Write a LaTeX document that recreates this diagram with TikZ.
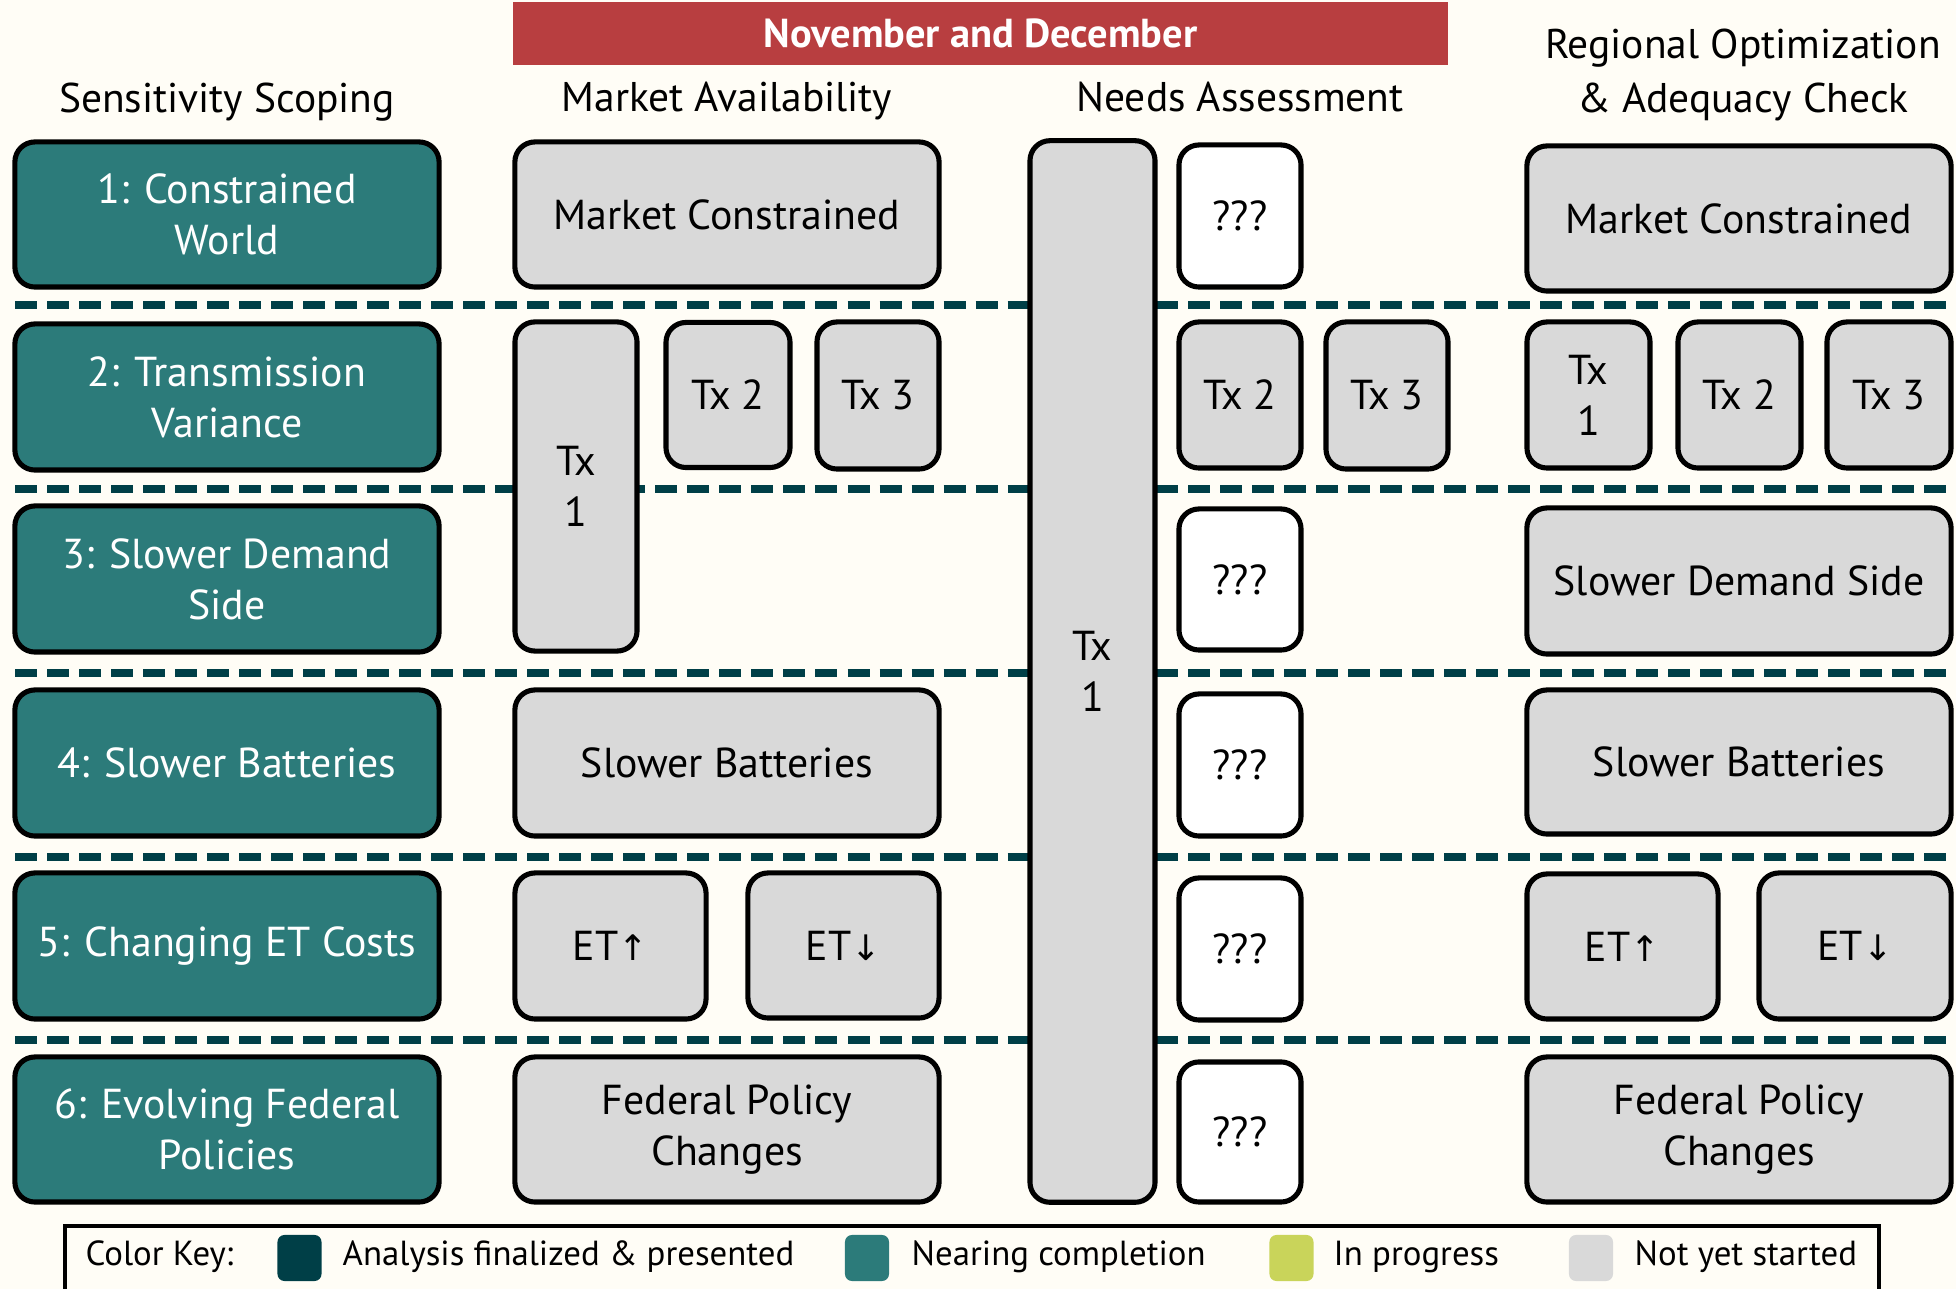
\documentclass[tikz,border=0pt]{standalone}
\usepackage{fontspec}
\setmainfont{PT Sans}
\newfontfamily\arrowfont{DejaVu Sans}
\definecolor{bgc}{HTML}{FFFDF6}
\definecolor{tealc}{HTML}{2C7B7A}
\definecolor{darkc}{HTML}{003F47}
\definecolor{limec}{HTML}{C9D45A}
\definecolor{greyc}{HTML}{D9D9D9}
\definecolor{redc}{HTML}{B83E40}
\newcommand\B[7]{\node[#2, minimum width=#5cm, minimum height=#6cm] (#1) at (#3,#4) {#7};}
\newcommand\up{{\arrowfont\fontsize{10}{12}\selectfont↑}}
\newcommand\dn{{\arrowfont\fontsize{10}{12}\selectfont↓}}
\tikzset{
  basebox/.style={draw=black, line width=1.45pt, rounded corners=0.2cm, align=center, inner sep=0pt,
    font=\fontsize{11.9}{14.5}\selectfont},
  tealbox/.style={basebox, fill=tealc, text=white},
  greybox/.style={basebox, fill=greyc, text=black},
  whitebox/.style={basebox, fill=white, text=black},
  sep/.style={draw=darkc, line width=2pt, dash pattern=on 0.22cm off 0.1cm},
  colheadml/.style={font=\fontsize{11.8}{14.5}\selectfont, align=center},
  colhead/.style={colheadml, text height=0.75em, text depth=0.2em},
  swatch/.style={rounded corners=0.07cm, minimum width=0.44cm, minimum height=0.46cm, inner sep=0pt},
  keytext/.style={font=\fontsize{9.9}{12}\selectfont, anchor=west, inner sep=0pt},
}
\begin{document}
\begin{tikzpicture}[x=0.01cm,y=-0.01cm]
\useasboundingbox (0,0) rectangle (1956,1289);
\clip (0,0) rectangle (1956,1289);
\fill[bgc] (0,0) rectangle (1956,1289);
% header
\node[fill=redc, minimum width=9.35cm, minimum height=0.63cm, inner sep=0pt, text=white,
  font=\fontsize{11.5}{14}\selectfont\bfseries] (hdr) at (980.5,33.5) {November and December};
\node[colhead] (h1) at (227,103) {Sensitivity Scoping};
\node[colhead] (h2) at (727,102) {Market Availability};
\node[colhead] (h3) at (1240,102) {Needs Assessment};
\node[colheadml, font=\fontsize{11.8}{15.5}\selectfont] (h4) at (1743,75) {Regional Optimization\\\& Adequacy Check};
% separators (left part runs under the tall Tx 1 box, right part starts at its edge)
\foreach \s/\yy in {s1/305,s2/489,s3/673,s4/857,s5/1040}{
  \coordinate (\s l) at (15,\yy); \coordinate (\s k) at (1092,\yy);
  \coordinate (\s m) at (1156,\yy); \coordinate (\s r) at (1960,\yy);
  \draw[sep] (\s l) -- (\s k);
  \draw[sep] (\s m) -- (\s r);
}
% left column
\B{l1}{tealbox}{227}{214.5}{4.24}{1.45}{1: Constrained\\World}
\B{l2}{tealbox}{227}{397}{4.24}{1.46}{2: Transmission\\Variance}
\B{l3}{tealbox}{227}{579}{4.24}{1.46}{3: Slower Demand\\Side}
\B{l4}{tealbox}{227}{763}{4.24}{1.46}{4: Slower Batteries}
\B{l5}{tealbox}{227}{946}{4.24}{1.46}{5: Changing ET Costs}
\B{l6}{tealbox}{227}{1129.5}{4.24}{1.45}{6: Evolving Federal\\Policies}
% market availability
\B{m1}{greybox}{727}{214.5}{4.24}{1.45}{Market Constrained}
\B{mt1}{greybox}{576}{486.5}{1.22}{3.29}{Tx\\1}
\B{mt2}{greybox}{728}{395}{1.24}{1.45}{Tx 2}
\B{mt3}{greybox}{878}{395.5}{1.22}{1.47}{Tx 3}
\B{m4}{greybox}{727}{763}{4.24}{1.46}{Slower Batteries}
\B{m5a}{greybox}{610.5}{946}{1.91}{1.46}{ET\up}
\B{m5b}{greybox}{843.5}{945.5}{1.91}{1.45}{ET\dn}
\B{m6}{greybox}{727}{1129.5}{4.24}{1.45}{Federal Policy\\Changes}
% needs assessment
\B{nt1}{greybox}{1092.5}{671.5}{1.25}{10.61}{Tx\\1}
\B{n1}{whitebox}{1240}{216}{1.22}{1.42}{???}
\B{nt2}{greybox}{1240}{395}{1.22}{1.46}{Tx 2}
\B{nt3}{greybox}{1387}{395.5}{1.22}{1.47}{Tx 3}
\B{n3}{whitebox}{1240}{579.5}{1.22}{1.41}{???}
\B{n4}{whitebox}{1240}{765}{1.22}{1.42}{???}
\B{n5}{whitebox}{1240}{949}{1.22}{1.42}{???}
\B{n6}{whitebox}{1240}{1132}{1.22}{1.40}{???}
% regional
\B{r1}{greybox}{1739}{218.5}{4.24}{1.45}{Market Constrained}
\B{rt1}{greybox}{1588.5}{395}{1.23}{1.46}{Tx\\1}
\B{rt2}{greybox}{1739.5}{395}{1.23}{1.46}{Tx 2}
\B{rt3}{greybox}{1889}{395}{1.24}{1.46}{Tx 3}
\B{r3}{greybox}{1739}{581}{4.24}{1.46}{Slower Demand Side}
\B{r4}{greybox}{1739}{762}{4.24}{1.44}{Slower Batteries}
\B{r5a}{greybox}{1622.5}{946.5}{1.91}{1.45}{ET\up}
\B{r5b}{greybox}{1855}{946}{1.92}{1.46}{ET\dn}
\B{r6}{greybox}{1739}{1129.5}{4.24}{1.45}{Federal Policy\\Changes}
% legend
\draw[black, line width=1.3pt, fill=bgc] (65,1226) rectangle (1879,1310);
\node[keytext] (k0) at (85,1257) {Color Key:};
\node[swatch, fill=darkc] (k1s) at (299.5,1258) {};
\node[keytext] (k1) at (342,1257) {Analysis finalized \& presented};
\node[swatch, fill=tealc] (k2s) at (867,1258) {};
\node[keytext] (k2) at (911,1257) {Nearing completion};
\node[swatch, fill=limec] (k3s) at (1291.5,1258) {};
\node[keytext] (k3) at (1333,1257) {In progress};
\node[swatch, fill=greyc] (k4s) at (1591,1258) {};
\node[keytext] (k4) at (1634,1257) {Not yet started};
\end{tikzpicture}
\end{document}
